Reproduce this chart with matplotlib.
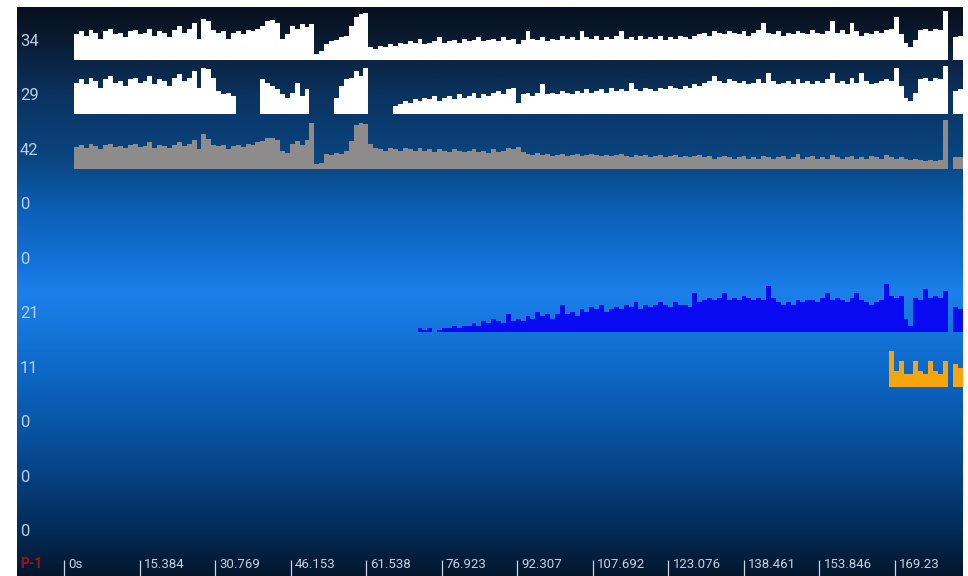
import numpy as np
import matplotlib
matplotlib.use("Agg")
import matplotlib.pyplot as plt
from matplotlib.colors import LinearSegmentedColormap

plt.rcParams['font.family'] = ['Roboto', 'DejaVu Sans']

# one sample per second, t = 2 .. 182 s (180 s is a dropout)
t0 = 2

ch1 = [18, 20, 17, 21, 19, 15, 20, 22, 18, 19,
       16, 20, 21, 18, 19, 22, 17, 20, 19, 16,
       21, 24, 19, 22, 26, 15, 29, 27, 21, 19,
       20, 15, 19, 20, 18, 21, 20, 22, 24, 27,
       28, 26, 15, 18, 24, 22, 25, 23, 25, 4,
       6, 11, 13, 14, 16, 17, 24, 30, 32, 33,
       9, 8, 10, 9, 11, 10, 12, 11, 13, 12,
       15, 11, 12, 13, 16, 12, 13, 14, 12, 15,
       13, 14, 16, 13, 14, 15, 13, 16, 14, 15,
       11, 14, 20, 15, 14, 16, 13, 15, 14, 17,
       15, 16, 14, 20, 16, 15, 17, 14, 16, 15,
       17, 20, 15, 16, 14, 17, 15, 16, 15, 17,
       14, 16, 15, 17, 16, 15, 17, 18, 19, 17,
       20, 19, 18, 20, 19, 18, 20, 17, 19, 21,
       26, 19, 18, 20, 17, 19, 18, 20, 19, 18,
       21, 19, 18, 20, 27, 19, 21, 18, 26, 20,
       17, 19, 18, 20, 19, 21, 22, 30, 18, 12,
       9, 14, 21, 22, 20, 22, 21, 34, 0, 16,
       17]

ch2 = [19, 21, 18, 22, 20, 16, 21, 23, 19, 20,
       17, 21, 22, 19, 20, 23, 18, 21, 20, 17,
       22, 24, 20, 22, 26, 16, 28, 27, 22, 14,
       12, 13, 11, 0, 0, 0, 0, 0, 21, 19,
       17, 15, 12, 10, 13, 19, 11, 15, 0, 0,
       0, 0, 0, 10, 17, 21, 22, 26, 23, 28,
       0, 0, 0, 0, 0, 5, 6, 8, 7, 9,
       8, 10, 9, 11, 8, 10, 11, 9, 12, 10,
       11, 13, 10, 12, 11, 13, 14, 12, 15, 16,
       7, 12, 13, 11, 13, 18, 12, 13, 12, 14,
       13, 12, 14, 13, 15, 13, 14, 15, 13, 16,
       14, 15, 14, 19, 15, 14, 16, 15, 14, 16,
       15, 17, 16, 15, 17, 16, 18, 17, 19, 20,
       23, 20, 19, 21, 20, 19, 20, 18, 19, 21,
       19, 25, 20, 18, 19, 20, 18, 21, 19, 20,
       18, 20, 19, 21, 25, 19, 20, 18, 22, 19,
       25, 20, 18, 19, 20, 21, 20, 28, 17, 10,
       8, 13, 21, 22, 20, 22, 21, 29, 0, 14,
       15]

ch3 = [19, 21, 18, 22, 20, 17, 21, 22, 19, 20,
       18, 21, 22, 19, 20, 23, 18, 21, 20, 18,
       21, 23, 20, 22, 25, 17, 30, 26, 21, 20,
       21, 17, 20, 21, 19, 22, 21, 23, 24, 27,
       27, 25, 16, 14, 22, 24, 21, 25, 40, 4,
       5, 13, 12, 14, 13, 16, 24, 38, 40, 39,
       22, 18, 17, 16, 18, 17, 16, 18, 17, 16,
       18, 16, 17, 15, 17, 16, 15, 17, 16, 15,
       16, 17, 15, 16, 14, 17, 15, 16, 18, 17,
       19, 15, 13, 12, 14, 12, 13, 11, 12, 13,
       11, 12, 13, 11, 12, 13, 12, 11, 12, 11,
       12, 13, 11, 10, 12, 11, 12, 10, 11, 12,
       10, 11, 12, 10, 11, 10, 11, 12, 10, 11,
       9, 10, 11, 10, 9, 10, 11, 9, 10, 9,
       11, 10, 9, 10, 11, 9, 10, 13, 9, 10,
       11, 9, 10, 9, 12, 10, 9, 10, 11, 9,
       10, 9, 11, 10, 9, 12, 10, 9, 10, 9,
       8, 9, 8, 7, 8, 7, 8, 42, 0, 10,
       10]

ch6 = [0] * 70 + [
       2, 1, 2, 0, 1, 2, 2, 3, 2, 3,
       3, 4, 3, 5, 4, 6, 5, 4, 8, 5,
       6, 5, 7, 6, 9, 7, 8, 6, 8, 12,
       8, 9, 7, 10, 9, 11, 10, 12, 9, 10,
       11, 10, 12, 11, 13, 10, 12, 11, 12, 13,
       12, 11, 13, 12, 12, 11, 17, 13, 14, 15,
       14, 15, 17, 14, 15, 14, 16, 15, 14, 15,
       14, 20, 15, 13, 12, 13, 12, 14, 13, 14,
       14, 13, 15, 17, 14, 15, 14, 13, 15, 17,
       14, 13, 12, 13, 14, 21, 16, 15, 16, 6,
       3, 15, 14, 19, 15, 16, 15, 18, 0, 11,
       10]

ch7 = [0] * 166 + [11, 5, 8, 4, 4, 8, 5, 4, 8, 5, 4, 8, 0, 7, 6]

row_labels = ['34', '29', '42', '0', '0', '21', '11', '0', '0', '0']
tick_vals = [0, 15.384, 30.769, 46.153, 61.538, 76.923, 92.307,
             107.692, 123.076, 138.461, 153.846, 169.23]
tick_text = ['0s', '15.384', '30.769', '46.153', '61.538', '76.923', '92.307',
             '107.692', '123.076', '138.461', '153.846', '169.23']

# (row, values, full scale, colour)
channels = [
    (0, ch1, 34, '#ffffff'),
    (1, ch2, 29, '#ffffff'),
    (2, ch3, 42, '#8e8b8b'),
    (5, ch6, 21, '#0a0af2'),
    (6, ch7, 15, '#f7a50c'),
]

fig = plt.figure(figsize=(9.68, 5.76), dpi=100, facecolor='white')
ax = fig.add_axes([17 / 968, 0, 946 / 968, 569 / 576])

xlo, xhi = -9.57, 183.1
ylo, yhi = 9.468, -0.9725   # rows, inverted
ax.set_xlim(xlo, xhi)
ax.set_ylim(ylo, yhi)

# background gradient
stops = [(0.0, '#07101d'), (0.05, '#0a1a30'), (0.16, '#0a3462'),
         (0.27, '#0a4682'), (0.35, '#0b5eb4'), (0.45, '#1372da'),
         (0.5, '#1b80ea'), (0.57, '#1476da'), (0.67, '#0b62bd'),
         (0.75, '#0852a0'), (0.83, '#064080'), (0.92, '#042b58'),
         (1.0, '#03172c')]
cmap = LinearSegmentedColormap.from_list('bg', stops)
grad = np.linspace(0, 1, 512).reshape(-1, 1)
ax.imshow(grad, cmap=cmap, aspect='auto', extent=[xlo, xhi, ylo, yhi],
          origin='upper', zorder=0, interpolation='bilinear')

for row, vals, full, col in channels:
    vals = np.array(vals, dtype=float)
    t = t0 + np.arange(len(vals))
    ax.bar(t, -vals / full * 0.89, width=1.0, bottom=row, align='edge',
           color=col, linewidth=0, zorder=2)

for i, lbl in enumerate(row_labels):
    ax.text(0.003, i - 0.34, lbl, transform=ax.get_yaxis_transform(),
            ha='left', va='center', fontsize=12, color='#bccde0', zorder=3)

ax.text(0.003, 9.25, 'P-1', transform=ax.get_yaxis_transform(),
        ha='left', va='center', fontsize=10, color='#a3101c',
        fontweight='bold', zorder=3)

ax.set_xticks(tick_vals)
ax.set_xticklabels([])
ax.set_yticks([])
ax.tick_params(axis='x', direction='in', length=11.5, width=0.9,
               color='#c8d4e4', pad=0)
for v, s in zip(tick_vals, tick_text):
    ax.annotate(s, xy=(v, 9.25), xytext=(3, 0), textcoords='offset points',
                ha='left', va='center', fontsize=9.5, color='#c4d0de', zorder=3)

for sp in ax.spines.values():
    sp.set_visible(False)

fig.savefig('out.png', dpi=100, facecolor='white')
